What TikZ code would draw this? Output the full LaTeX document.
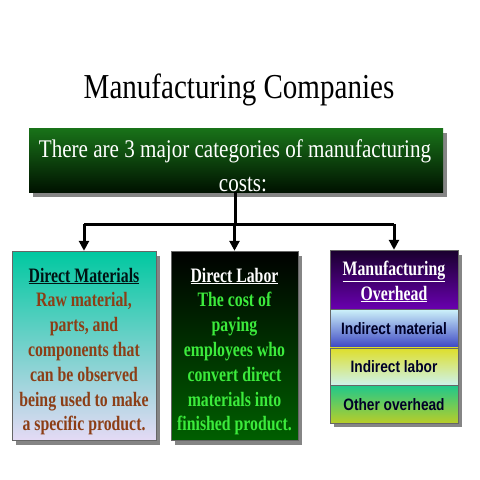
\documentclass[tikz,border=0pt]{standalone}
\usepackage{fontspec}
\setmainfont[FakeStretch=0.83]{Liberation Serif}
\newfontfamily\boxfont[FakeStretch=0.77]{Liberation Serif}
\newfontfamily\bandfont[FakeStretch=0.83]{Liberation Sans}
\usetikzlibrary{positioning}
\usetikzlibrary {arrows.meta}
\usetikzlibrary{shadows}
\definecolor{topgreen}{RGB}{25,115,25}
\definecolor{topblack}{RGB}{0,18,0}
\definecolor{dmteal}{RGB}{0,200,160}
\definecolor{dmlav}{RGB}{228,218,245}
\definecolor{dlgreen}{RGB}{0,95,0}
\definecolor{dmbrown}{RGB}{140,62,22}
\definecolor{dllime}{RGB}{60,235,60}
\definecolor{mohdark}{RGB}{25,0,45}
\definecolor{mohpurple}{RGB}{105,0,175}
\definecolor{bandcyan}{RGB}{205,242,250}
\definecolor{bandblue}{RGB}{60,70,195}
\definecolor{bandyellow}{RGB}{222,222,40}
\definecolor{bandmint}{RGB}{205,242,235}
\definecolor{bandteal}{RGB}{30,200,140}
\definecolor{bandlime}{RGB}{185,205,40}
\definecolor{bandnavy}{RGB}{0,0,40}
\tikzset{shadowed/.style={drop shadow={shadow xshift=4pt,shadow yshift=-5pt,
fill=black!48,opacity=1}}}
\tikzset{catbox/.style={rectangle,draw=black!60,line width=0.4pt,
inner sep=0pt,shadowed}}
\tikzset{bandbox/.style={rectangle,draw=black!60,line width=0.4pt,
inner sep=0pt,minimum width=128pt}}
\tikzset{boxtext/.style={anchor=base,inner sep=0pt,
font=\fontsize{20.5}{25}\boxfont\bfseries}}
\tikzset{bandtext/.style={anchor=base,inner sep=0pt,text=bandnavy,
font=\fontsize{16.5}{18}\bandfont\bfseries}}
\tikzset{costtext/.style={anchor=base,inner sep=0pt,text=white,
font=\fontsize{25.4}{31}\selectfont}}

\begin{document}
\begin{tikzpicture}[x=1pt,y=-1pt]
    \useasboundingbox (0,0) rectangle (480,480);

    \node[anchor=base,inner sep=0pt,font=\fontsize{35}{40}\selectfont] (title) at (239,98) {Manufacturing Companies};

    % top box
    \node[catbox,draw=none,top color=topgreen,bottom color=topblack,
      minimum width=414pt,minimum height=64pt] (costs) at (236,160) {};
    \node[costtext] (costs1) at (235,157) {There are 3 major categories of manufacturing};
    \node[costtext] (costs2) at (243,191) {costs:};

    % the three categories
    \node[catbox,top color=dmteal,bottom color=dmlav,
      minimum width=144pt,minimum height=189pt] (dm) at (84,345.5) {};
    \node[catbox,top color=black,bottom color=dlgreen,
      minimum width=127pt,minimum height=189pt] (dl) at (234.5,345.5) {};
    \node[catbox,minimum width=128pt,minimum height=172pt] (moh) at (394,336) {};

    \node[bandbox,top color=mohdark,bottom color=mohpurple,minimum height=59pt] (mohhead) at (394,279.5) {};
    \node[bandbox,top color=bandcyan,bottom color=bandblue,minimum height=38pt] (indmat) [below=0pt of mohhead] {};
    \node[bandbox,top color=bandyellow,bottom color=bandmint,minimum height=37pt] (indlab) [below=0pt of indmat] {};
    \node[bandbox,top color=bandteal,bottom color=bandlime,minimum height=38pt] (othoh) [below=0pt of indlab] {};

    % texts
    \node[boxtext,text=black!85!teal] (dmhead) at (84,282) {\underline{Direct Materials}};
    \foreach \txt [count=\i] in {{Raw material,},{parts, and},{components that},
      {can be observed},{being used to make},{a specific product.}}
      \node[boxtext,text=dmbrown] (dm\i) at (84,282+24.8*\i) {\txt};

    \node[boxtext,text=white] (dlhead) at (234.5,282) {\underline{Direct Labor}};
    \foreach \txt [count=\i] in {{The cost of},{paying},{employees who},
      {convert direct},{materials into},{finished product.}}
      \node[boxtext,text=dllime] (dl\i) at (234.5,282+24.8*\i) {\txt};

    \node[boxtext,text=white] (mohhead1) at (394,275) {\underline{Manufacturing}};
    \node[boxtext,text=white] (mohhead2) at (394,300) {\underline{Overhead}};
    \node[bandtext] (indmattext) at ([yshift=-6pt]indmat.center) {Indirect material};
    \node[bandtext] (indlabtext) at ([yshift=-6pt]indlab.center) {Indirect labor};
    \node[bandtext] (othohtext) at ([yshift=-6pt]othoh.center) {Other overhead};

    % connectors
    \coordinate (split) at (235,224);
    \draw [line width=3pt] (costs.south -| split) -- (split);
    \draw [line width=3pt] (dm.north |- split) -- (moh.north |- split);
    \foreach \b in {dm,dl,moh}
      \draw [line width=3pt,-{Triangle[length=10pt,width=10pt]}] (\b.north |- split) -- (\b.north);

\end{tikzpicture}
\end{document}
